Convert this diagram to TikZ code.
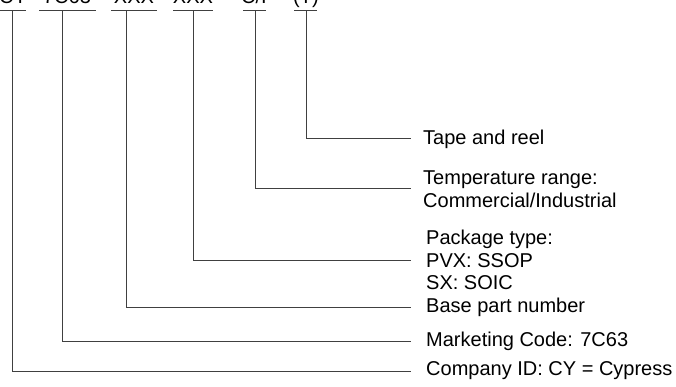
\documentclass[tikz,border=0pt]{standalone}
\usepackage{fontspec}
\setmainfont{Liberation Sans}

\begin{document}
\begin{tikzpicture}[x=1pt,y=-1pt,
    code/.style={anchor=base, inner sep=0pt, font=\fontsize{20}{22}\selectfont},
    lbl/.style={anchor=west, inner xsep=12pt, inner ysep=0pt, align=left, font=\fontsize{20}{22.5}\selectfont},
    lead/.style={draw=black!75, line width=1pt}]
    %% Fixed frame. The part number at the top is cut off, so only its lower edge shows.
    \useasboundingbox (0,0) rectangle (676,387);
    \clip (0,0) rectangle (676,387);

    %% The part number, one node for each field
        \node[code] (cy)   at (13,4)  {CY};
        \node[code] (mkt)  at (67,4)  {7C63};
        \node[code] (base) at (134,4) {XXX};
        \node[code] (pkg)  at (193,4) {XXX};
        \node[code] (temp) at (254,4) {C/I};
        \node[code] (tr)   at (306,4) {(T)};

    %% Underlines below the fields
        \draw[lead] (0,10.5) -- (26,10.5);
        \draw[lead] (39,10.5) -- (96,10.5);
        \draw[lead] (111,10.5) -- (157,10.5);
        \draw[lead] (173,10.5) -- (213,10.5);
        \draw[lead] (243,10.5) -- (266,10.5);
        \draw[lead] (294,10.5) -- (317,10.5);

    %% The explanations on the right
        \node[lbl] (ltr)   at (411,139) {Tape and reel};
        \node[lbl] (ltemp) at (411,189) {Temperature range:\\Commercial/Industrial};
        \node[lbl, inner xsep=15pt] (lpkg)  at (411,260) {Package type:\\PVX: SSOP\\SX: SOIC};
        \node[lbl, inner xsep=15pt] (lbase) at (411,307) {Base part number};
        \node[lbl, inner xsep=15pt] (lmkt)  at (411,341) {Marketing Code: 7C63};
        \node[lbl, inner xsep=15pt] (lcy)   at (411,371) {Company ID: CY = Cypress};

    %% Leader lines, from under each field down and across to its text
        \coordinate (cyTop)   at (12,11);
        \coordinate (mktTop)  at (62,11);
        \coordinate (baseTop) at (126,11);
        \coordinate (pkgTop)  at (193,11);
        \coordinate (tempTop) at (255,11);
        \coordinate (trTop)   at (306,11);
        \draw[lead] (cyTop)   |- (lcy.west);
        \draw[lead] (mktTop)  |- (lmkt.west);
        \draw[lead] (baseTop) |- (lbase.west);
        \draw[lead] (pkgTop)  |- (lpkg.west);
        \draw[lead] (tempTop) |- (ltemp.west);
        \draw[lead] (trTop)   |- (ltr.west);
\end{tikzpicture}
\end{document}
